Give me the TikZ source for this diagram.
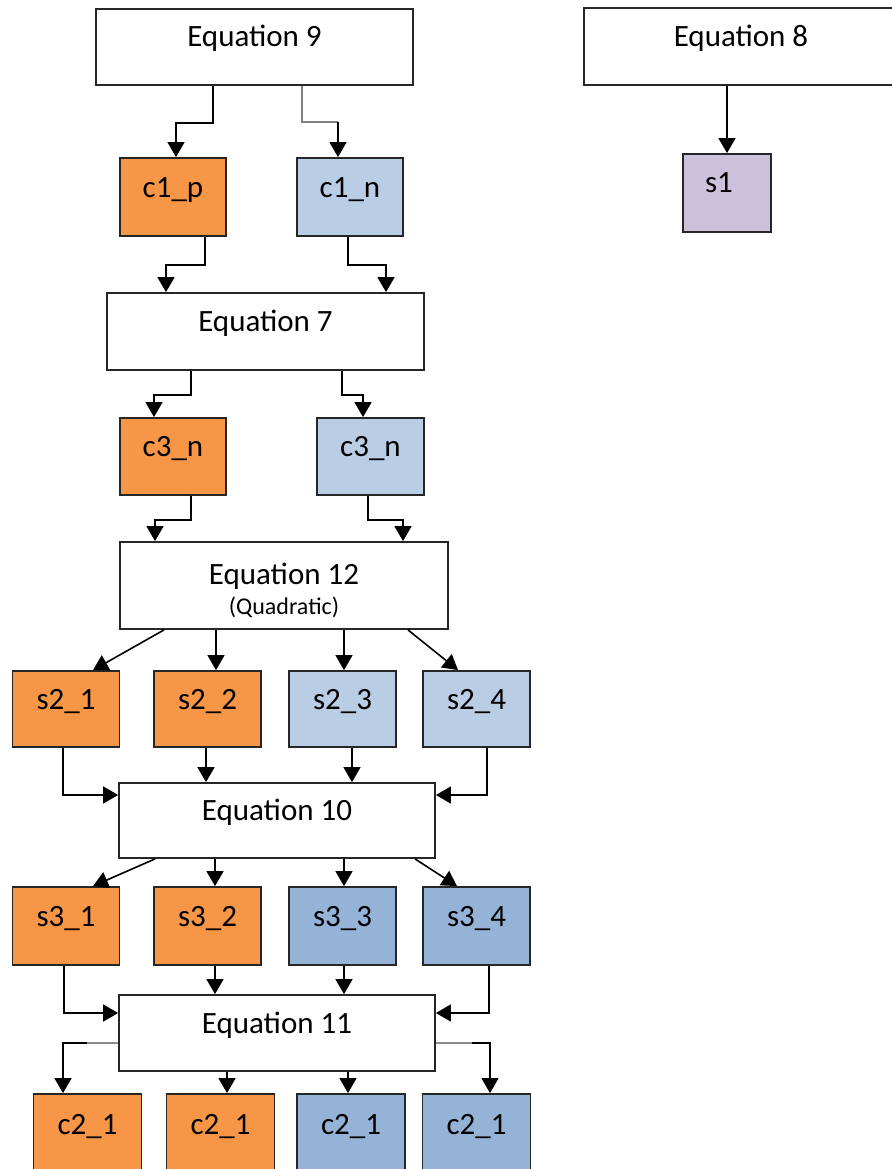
\documentclass[tikz,border=0pt]{standalone}
\usepackage{fontspec}
\setmainfont{Carlito}
\usetikzlibrary{arrows.meta}
\definecolor{orng}{HTML}{F79646}
\definecolor{lblue}{HTML}{B9CDE5}
\definecolor{mblue}{HTML}{95B3D7}
\definecolor{lilac}{HTML}{CCC1DA}
\tikzset{
	box/.style={draw=black!85, line width=1.8pt, inner sep=0pt, font=\fontsize{31}{37}\selectfont},
	eqbox/.style={box, fill=white, minimum width=#1},
	varbox/.style={box, minimum width=107pt},
	wire/.style={line width=1.6pt},
	link/.style={wire, -{Triangle[width=17pt,length=15pt]}},
}
\begin{document}
\begin{tikzpicture}[x=1pt,y=-1pt]
	\useasboundingbox (0,0) rectangle (891,1169);
	% equation boxes
	\node[eqbox=317pt, text height=38pt, text depth=38pt] (eq9) at (254.5,47) {Equation 9};
	\node[eqbox=314pt, text height=38.5pt, text depth=38.5pt] (eq8) at (741,46.5) {Equation 8};
	\node[eqbox=317pt, text height=38.5pt, text depth=38.5pt] (eq7) at (265.5,331.5) {Equation 7};
	\node[eqbox=328pt, align=center, text height=72pt, text depth=15pt] (eq12) at (284,585.5) {Equation 12\\[-7pt]{\fontsize{24}{28}\selectfont (Quadratic)}};
	\node[eqbox=316pt, text height=37.5pt, text depth=37.5pt] (eq10) at (277,820.5) {Equation 10};
	\node[eqbox=316pt, text height=38pt, text depth=38pt] (eq11) at (277,1033) {Equation 11};

	% variable boxes
	\node[varbox, minimum width=106pt, fill=orng, text height=39pt, text depth=39pt] (c1p) at (173,197) {c1\_p};
	\node[varbox, minimum width=106pt, fill=lblue, text height=39pt, text depth=39pt] (c1n) at (350,197) {c1\_n};
	\node[varbox, minimum width=88pt, fill=lilac, text height=39pt, text depth=39pt] (s1) at (727,193) {s1\kern16pt};
	\node[varbox, minimum width=106pt, fill=orng, text height=38.5pt, text depth=38.5pt] (c3no) at (173,456.5) {c3\_n};
	\node[varbox, fill=lblue, text height=38.5pt, text depth=38.5pt] (c3nb) at (370.5,456.5) {c3\_n};
	\foreach \i/\x/\c in {1/66/orng, 2/207.5/orng, 3/342.5/lblue, 4/476.5/lblue}{
		\node[varbox, fill=\c, text height=38pt, text depth=38pt] (s2\i) at (\x,709) {s2\_\i};
	}
	\foreach \i/\x/\c in {1/66/orng, 2/207.5/orng, 3/342.5/mblue, 4/476.5/mblue}{
		\node[varbox, fill=\c, text height=39pt, text depth=39pt] (s3\i) at (\x,926) {s3\_\i};
	}
	\foreach \i/\x/\c in {a/87.5/orng, b/220.5/orng, c/351/mblue, d/476.5/mblue}{
		\node[varbox, minimum width=108pt, fill=\c, text height=40pt, text depth=40pt] (c2\i) at (\x,1134) {c2\_1};
	}

	% elbow connectors
	\draw[link] ([xshift=-41.5pt]eq9.south) -- ++(0,37) -| ([xshift=3pt]c1p.north);
	\coordinate (k9) at (338,122);
	\draw[wire, black!50] ([xshift=47.5pt]eq9.south) |- (k9);
	\draw[link] (k9) -- (k9 |- c1n.north);
	\draw[link] (eq8.south -| s1.north) -- (s1.north);
	\draw[link] ([xshift=32pt]c1p.south) -- ++(0,28) -| ([xshift=-99.5pt]eq7.north);
	\draw[link] ([xshift=-2pt]c1n.south) -- ++(0,28) -| ([xshift=120.5pt]eq7.north);
	\draw[link] ([xshift=-74.5pt]eq7.south) -- ++(0,24) -| ([xshift=-19pt]c3no.north);
	\draw[link] ([xshift=76.5pt]eq7.south) -- ++(0,24) -| ([xshift=-7.5pt]c3nb.north);
	\draw[link] ([xshift=18pt]c3no.south) -- ++(0,24) -| ([xshift=-129pt]eq12.north);
	\draw[link] ([xshift=-2.5pt]c3nb.south) -- ++(0,24) -| ([xshift=119pt]eq12.north);

	% fan out and in
	\draw[link] ([xshift=-120pt]eq12.south) -- ([xshift=27pt]s21.north);
	\draw[link] ([xshift=124pt]eq12.south) -- ([xshift=-18.5pt]s24.north);
	\draw[link] ([xshift=-122pt]eq10.south) -- ([xshift=27pt]s31.north);
	\draw[link] ([xshift=138pt]eq10.south) -- ([xshift=-19.5pt]s34.north);
	\foreach \a/\b/\sa/\sb in {eq12/s22/-68/8.5, eq12/s23/60/1.5, s22/eq10/-1.5/-71, s23/eq10/9.5/75,
		eq10/s32/-62/7.5, eq10/s33/67/1.5, s32/eq11/7.5/-62, s33/eq11/1.5/67,
		eq11/c2b/-50/6.5, eq11/c2c/71/-3}{
		\draw[link] ([xshift=\sa pt]\a.south) -- ([xshift=\sb pt]\b.north);
	}
	\draw[link] ([xshift=-3pt]s21.south) |- ([yshift=25.5pt]eq10.west);
	\draw[link] ([xshift=10.5pt]s24.south) |- ([yshift=25.5pt]eq10.east);
	\draw[link] ([xshift=-2pt]s31.south) |- ([yshift=20pt]eq11.west);
	\draw[link] ([xshift=12.5pt]s34.south) |- ([yshift=20pt]eq11.east);
	\coordinate (g1) at (87,1043);
	\coordinate (g4) at (472,1043);
	\draw[wire, black!45] ([yshift=-10pt]eq11.west) -- (g1);
	\draw[link] (g1) -| ([xshift=-24.5pt]c2a.north);
	\draw[wire, black!45] ([yshift=-10pt]eq11.east) -- (g4);
	\draw[link] (g4) -| ([xshift=13.5pt]c2d.north);
\end{tikzpicture}
\end{document}
